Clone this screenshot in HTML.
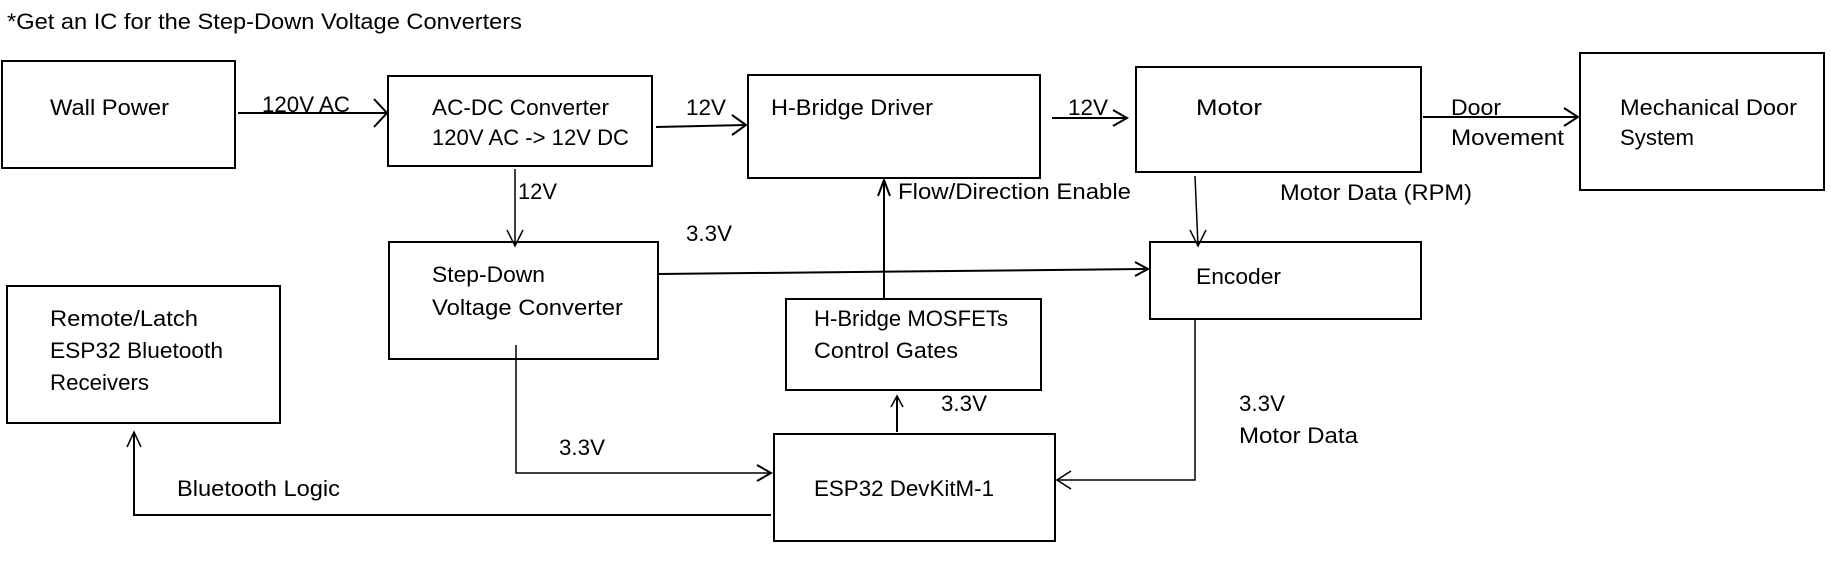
<!DOCTYPE html>
<html><head><meta charset="utf-8"><style>
html,body{margin:0;padding:0;background:#fff;}
svg{display:block;}
text{font-family:"Liberation Sans",sans-serif;font-size:22px;fill:#000;}
</style></head><body>
<svg width="1831" height="562" viewBox="0 0 1831 562" xmlns="http://www.w3.org/2000/svg">
<g fill="none" stroke="#000" stroke-width="2">
<rect x="2" y="61" width="233" height="107"/>
<rect x="388" y="76" width="264" height="90"/>
<rect x="748" y="75" width="292" height="103"/>
<rect x="1136" y="67" width="285" height="105"/>
<rect x="1580" y="53" width="244" height="137"/>
<rect x="389" y="242" width="269" height="117"/>
<rect x="1150" y="242" width="271" height="77"/>
<rect x="7" y="286" width="273" height="137"/>
<rect x="786" y="299" width="255" height="91"/>
<rect x="774" y="434" width="281" height="107"/>
</g>
<g fill="none" stroke="#000" stroke-width="2" stroke-linejoin="miter">
<line x1="238" y1="113" x2="387" y2="113"/><polyline points="374,99 387,113 374,127"/>
<line x1="656" y1="127" x2="746" y2="125"/><polyline points="732,115 746,125 732,135"/>
<line x1="1052" y1="118" x2="1127" y2="118"/><polyline points="1113,110 1127,118 1113,126"/>
<line x1="1423" y1="117" x2="1578" y2="117"/><polyline points="1564,108 1578,117 1564,126"/>
<line x1="515" y1="169" x2="515" y2="246" stroke-width="1.5"/><polyline points="507,230 515,246 523,230" stroke-width="1.5"/>
<line x1="658" y1="274" x2="1148" y2="269"/><polyline points="1135,262 1148,269 1135,276"/>
<line x1="884" y1="299" x2="884" y2="180"/><polyline points="878,196 884,180 890,196"/>
<line x1="1195" y1="176" x2="1198" y2="246" stroke-width="1.5"/><polyline points="1190,230 1198,246 1206,230" stroke-width="1.5"/>
<polyline points="516,345 516,473 771,473" stroke-width="1.5"/><polyline points="757,465 771,473 757,481"/>
<polyline points="771,515 134,515 134,432"/><polyline points="127,447 134,432 141,447" stroke-width="1.5"/>
<line x1="897" y1="432" x2="897" y2="396"/><polyline points="891,407 897,396 903,407" stroke-width="1.5"/>
<polyline points="1195,319 1195,480 1057,480" stroke-width="1.5"/><polyline points="1071,471 1057,480 1071,489" stroke-width="1.5"/>
</g>
<g>
<text x="7" y="29" textLength="515" lengthAdjust="spacingAndGlyphs">*Get an IC for the Step-Down Voltage Converters</text>
<text x="50" y="115" textLength="119" lengthAdjust="spacingAndGlyphs">Wall Power</text>
<text x="262" y="112" textLength="88" lengthAdjust="spacingAndGlyphs">120V AC</text>
<text x="432" y="115" textLength="177" lengthAdjust="spacingAndGlyphs">AC-DC Converter</text>
<text x="432" y="145" textLength="197" lengthAdjust="spacingAndGlyphs">120V AC -&gt; 12V DC</text>
<text x="686" y="115" textLength="40" lengthAdjust="spacingAndGlyphs">12V</text>
<text x="771" y="115" textLength="162" lengthAdjust="spacingAndGlyphs">H-Bridge Driver</text>
<text x="1068" y="115" textLength="40" lengthAdjust="spacingAndGlyphs">12V</text>
<text x="1196" y="115" textLength="66" lengthAdjust="spacingAndGlyphs">Motor</text>
<text x="1451" y="115" textLength="50" lengthAdjust="spacingAndGlyphs">Door</text>
<text x="1451" y="145" textLength="113" lengthAdjust="spacingAndGlyphs">Movement</text>
<text x="1620" y="115" textLength="177" lengthAdjust="spacingAndGlyphs">Mechanical Door</text>
<text x="1620" y="145" textLength="74" lengthAdjust="spacingAndGlyphs">System</text>
<text x="518" y="199" textLength="39" lengthAdjust="spacingAndGlyphs">12V</text>
<text x="898" y="199" textLength="233" lengthAdjust="spacingAndGlyphs">Flow/Direction Enable</text>
<text x="1280" y="200" textLength="192" lengthAdjust="spacingAndGlyphs">Motor Data (RPM)</text>
<text x="686" y="241" textLength="46" lengthAdjust="spacingAndGlyphs">3.3V</text>
<text x="432" y="282" textLength="113" lengthAdjust="spacingAndGlyphs">Step-Down</text>
<text x="432" y="315" textLength="191" lengthAdjust="spacingAndGlyphs">Voltage Converter</text>
<text x="1196" y="284" textLength="85" lengthAdjust="spacingAndGlyphs">Encoder</text>
<text x="50" y="326" textLength="148" lengthAdjust="spacingAndGlyphs">Remote/Latch</text>
<text x="50" y="358" textLength="173" lengthAdjust="spacingAndGlyphs">ESP32 Bluetooth</text>
<text x="50" y="390" textLength="99" lengthAdjust="spacingAndGlyphs">Receivers</text>
<text x="814" y="326" textLength="194" lengthAdjust="spacingAndGlyphs">H-Bridge MOSFETs</text>
<text x="814" y="358" textLength="144" lengthAdjust="spacingAndGlyphs">Control Gates</text>
<text x="941" y="411" textLength="46" lengthAdjust="spacingAndGlyphs">3.3V</text>
<text x="1239" y="411" textLength="46" lengthAdjust="spacingAndGlyphs">3.3V</text>
<text x="1239" y="443" textLength="119" lengthAdjust="spacingAndGlyphs">Motor Data</text>
<text x="559" y="455" textLength="46" lengthAdjust="spacingAndGlyphs">3.3V</text>
<text x="177" y="496" textLength="163" lengthAdjust="spacingAndGlyphs">Bluetooth Logic</text>
<text x="814" y="496" textLength="180" lengthAdjust="spacingAndGlyphs">ESP32 DevKitM-1</text>
</g>
</svg>
</body></html>
